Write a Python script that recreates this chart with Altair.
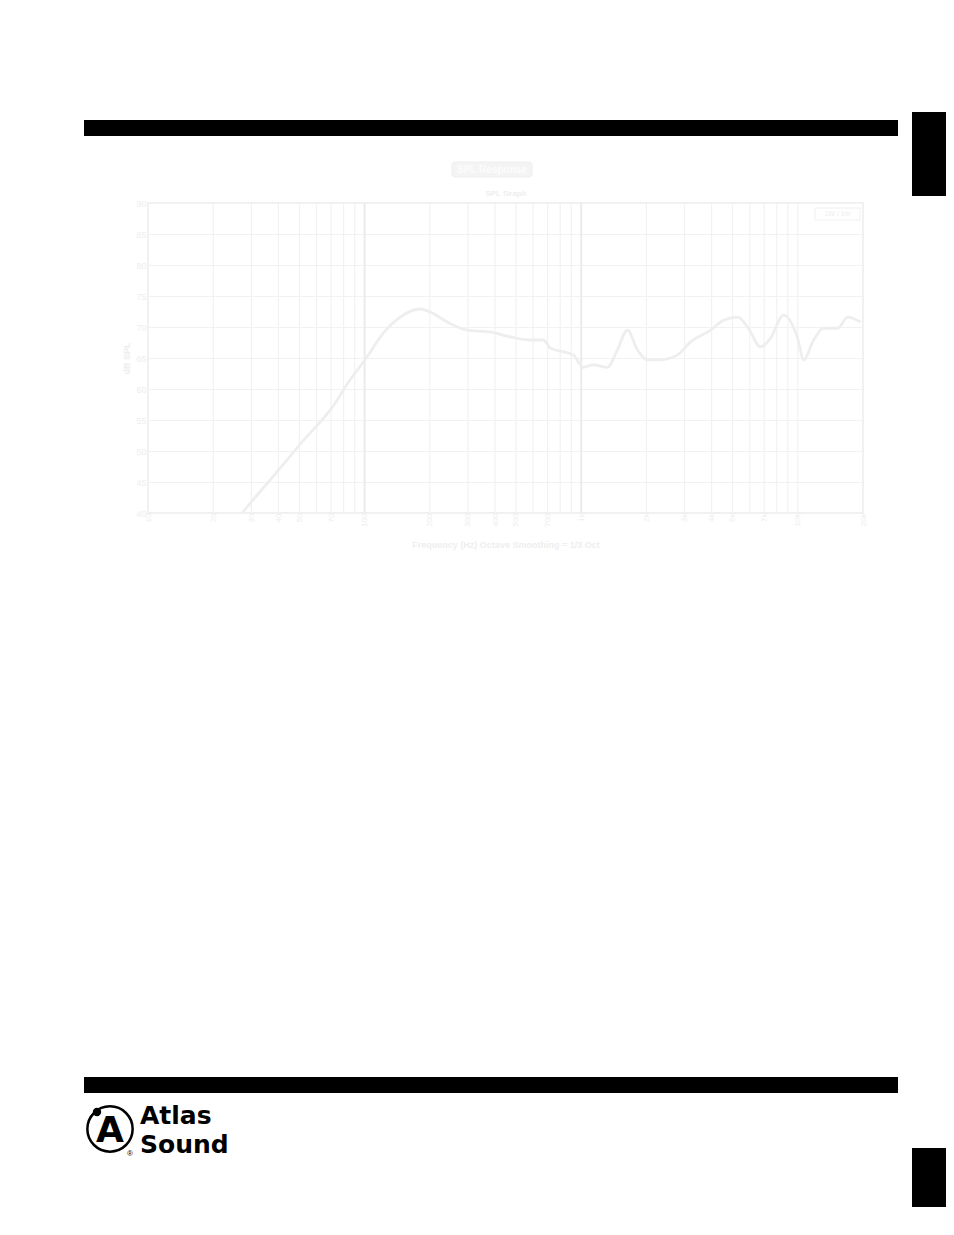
import altair as alt
import pandas as pd

# ---- data ----
freq_hz = [24, 27.5, 36.6, 50.4, 74.7, 81.3, 102.8, 121.9, 146, 180.7, 201, 241, 298, 380, 471,
           582, 668, 721, 828, 920, 1023, 1138, 1321, 1469, 1633, 1818, 2022, 2322, 2785, 3199,
           3956, 4542, 5273, 5864, 6732, 7484, 8594, 9977, 10640, 11830, 13150, 15270, 16990, 19500]
spl_db = [37.5, 40.2, 45.3, 51.1, 58.2, 60.3, 65.2, 69.0, 71.6, 72.9, 72.4, 70.8, 69.5, 69.2, 68.4,
          67.9, 67.9, 66.6, 66.0, 65.5, 63.5, 63.9, 63.5, 66.3, 69.5, 66.3, 64.7, 64.7, 65.5, 67.6,
          69.5, 71.1, 71.6, 70.0, 66.8, 68.2, 71.9, 68.2, 64.7, 67.9, 69.8, 69.8, 71.6, 70.8]

x_tick_values = [10, 20, 30, 40, 50, 70, 100, 200, 300, 400, 500, 700,
                 1000, 2000, 3000, 4000, 5000, 7000, 10000, 20000]
grid_freqs = [m * d for d in [10, 100, 1000] for m in range(1, 10)] + [10000, 20000]
major_freqs = [100, 1000]
y_tick_values = [40, 45, 50, 55, 60, 65, 70, 75, 80, 85, 90]

chart_title = "SPL Response"
chart_subtitle = "SPL Graph"
legend_label = "1W / 1m"
x_title = "Frequency (Hz)  Octave Smoothing = 1/3 Oct"
y_title = "dB SPL"
brand_lines = ["Atlas", "Sound"]

FONT = "Liberation Sans"
GRID = "#f2f2f2"
FAINT_TXT = "#eeeeee"

curve = pd.DataFrame({"freq": freq_hz, "spl": spl_db})
grid = pd.DataFrame({"freq": grid_freqs})
major = pd.DataFrame({"freq": major_freqs})

xscale = alt.Scale(type="log", domain=[10, 20000])
yscale = alt.Scale(domain=[40, 90])

base_axis_x = alt.Axis(values=x_tick_values, grid=False, ticks=False, domain=False,
                       labelAngle=270, labelFontSize=8, labelColor=FAINT_TXT, labelFont=FONT,
                       labelPadding=0,
                       labelExpr="datum.value >= 1000 ? (datum.value/1000) + 'k' : datum.value",
                       title=x_title, titleFontSize=9, titleColor=FAINT_TXT, titleFont=FONT,
                       titleFontWeight="bold", titlePadding=14)
base_axis_y = alt.Axis(values=y_tick_values, grid=True, gridColor=GRID, gridWidth=1.2,
                       ticks=False, domain=False,
                       labelFontSize=9, labelColor=FAINT_TXT, labelFont=FONT, labelPadding=2,
                       title=y_title, titleFontSize=9, titleColor=FAINT_TXT, titleFont=FONT,
                       titleFontWeight="bold", titlePadding=4)

grid_layer = alt.Chart(grid).mark_rule(color=GRID, strokeWidth=1.2).encode(
    x=alt.X("freq:Q", scale=xscale, axis=base_axis_x),
)
major_layer = alt.Chart(major).mark_rule(color="#ebebeb", strokeWidth=2).encode(
    x=alt.X("freq:Q", scale=xscale),
)
line_layer = alt.Chart(curve).mark_line(color="#eeeeee", strokeWidth=2.8, interpolate="monotone",
                                        clip=True).encode(
    x=alt.X("freq:Q", scale=xscale),
    y=alt.Y("spl:Q", scale=yscale, axis=base_axis_y),
)

one = alt.Data(values=[{}])

def rect(x, x2, y, y2, fill, **kw):
    return alt.Chart(one).mark_rect(fill=fill, **kw).encode(
        x=alt.value(x), x2=alt.value(x2), y=alt.value(y), y2=alt.value(y2))

def text(t, x, y, **kw):
    return alt.Chart(one).mark_text(text=t, **kw).encode(
        x=alt.value(x), y=alt.value(y))

# title box, subtitle, legend box
title_box = rect(304, 384, -41, -26, "#f4f4f4", cornerRadius=3, stroke="#eeeeee", strokeWidth=1)
title_txt = text(chart_title, 344, -33.5, font=FONT, fontSize=10, fontWeight="bold",
                 color="#fcfcfc", baseline="middle", align="center")
sub_txt = text(chart_subtitle, 358, -9.5, font=FONT, fontSize=8, fontWeight="bold",
               color=FAINT_TXT, baseline="middle", align="center")
legend_box = rect(667, 712, 5, 17, "#ffffff", stroke="#f0f0f0", strokeWidth=1)
legend_txt = text(legend_label, 689.5, 11, font=FONT, fontSize=7, color=FAINT_TXT,
                  baseline="middle", align="center")

# page decorations
top_bar = rect(-64, 750, -83, -67, "#000000")
top_tab = rect(764, 810, -91, -7, "#000000")
bot_bar = rect(-64, 750, 874, 890, "#000000")
bot_tab = rect(764, 810, 945, 1004, "#000000")
logo_ring = alt.Chart(one).mark_point(shape="circle", filled=False, size=2050, strokeWidth=2.5,
                                      color="#000000", opacity=1).encode(
    x=alt.value(-38), y=alt.value(926))
logo_a = text("A", -38, 928, font="DejaVu Sans", fontSize=36, fontWeight="bold",
              color="#000000", baseline="middle", align="center")
logo_dot = alt.Chart(one).mark_point(shape="circle", filled=True, size=70, color="#000000",
                                     opacity=1).encode(x=alt.value(-51), y=alt.value(909))
logo_reg = text("®", -18, 951, font=FONT, fontSize=8, color="#000000",
                baseline="middle", align="center")
brand_txt = text(brand_lines, -8, 921, font="DejaVu Sans", fontSize=25, fontWeight="bold",
                 color="#000000", baseline="alphabetic", align="left", lineHeight=29)

chart = alt.layer(
    grid_layer, major_layer, line_layer,
    title_box, title_txt, sub_txt, legend_box, legend_txt,
    top_bar, top_tab, bot_bar, bot_tab,
    logo_ring, logo_a, logo_dot, logo_reg, brand_txt,
).properties(
    width=715, height=310,
    padding={"left": 140, "top": 195, "right": 83, "bottom": 700},
    autosize=alt.AutoSizeParams(type="none"),
    background="#ffffff",
).configure_view(stroke="#ebebeb", strokeWidth=1.5)

chart.save("out.html", embed_options={"renderer": "svg", "actions": False})
